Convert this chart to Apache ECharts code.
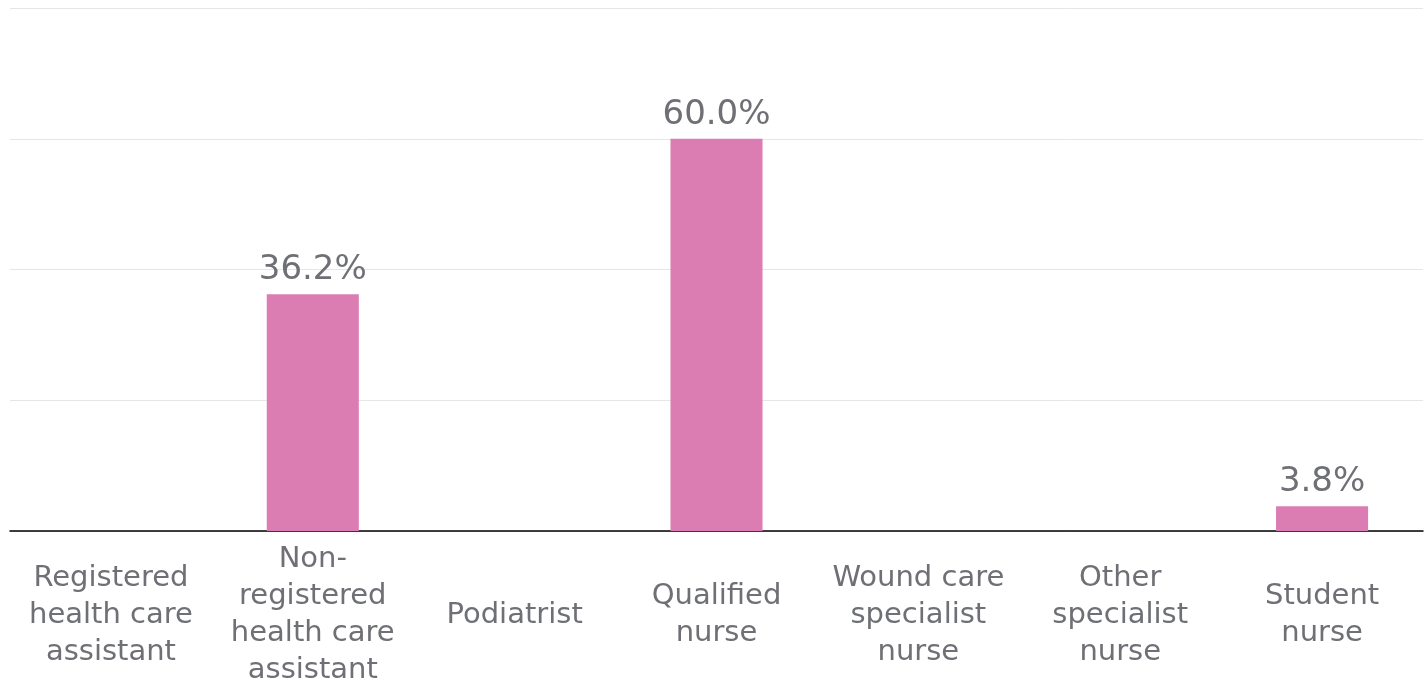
<!DOCTYPE html>
<html>
<head>
<meta charset="utf-8">
<script src="https://cdn.jsdelivr.net/npm/echarts@6/dist/echarts.min.js"></script>
<style>html,body{margin:0;padding:0;background:#fff;}#c{width:1424px;height:689px;}</style>
</head>
<body>
<div id="c"></div>
<script>
const categories = [
  "Registered\nhealth care\nassistant",
  "Non-\nregistered\nhealth care\nassistant",
  "Podiatrist",
  "Qualified\nnurse",
  "Wound care\nspecialist\nnurse",
  "Other\nspecialist\nnurse",
  "Student\nnurse"
];
const values = [0, 36.2, 0, 60.0, 0, 0, 3.8];
const yTicks = [0, 20, 40, 60, 80];

const chart = echarts.init(document.getElementById('c'), null, {renderer: 'canvas'});
chart.setOption({
  animation: false,
  grid: {left: 10, right: 1, top: 8, bottom: 158, containLabel: false},
  xAxis: {
    type: 'category',
    data: categories,
    axisLine: {show: true, lineStyle: {color: '#000', width: 1.5}},
    axisTick: {show: false},
    axisLabel: {
      interval: 0,
      margin: 84,
      verticalAlign: 'middle',
      color: '#6f7075',
      fontFamily: 'DejaVu Sans',
      fontSize: 29,
      lineHeight: 37
    }
  },
  yAxis: {
    type: 'value',
    min: 0, max: yTicks[yTicks.length - 1], interval: 20,
    axisLabel: {show: false},
    axisLine: {show: false},
    axisTick: {show: false},
    splitLine: {lineStyle: {color: '#e6e6e6', width: 1}}
  },
  series: [{
    type: 'bar',
    data: values.map(v => v === 0 ? null : v),
    barWidth: '45.6%',
    itemStyle: {color: '#db7db3'},
    z: 1,
    label: {
      show: true,
      position: 'top',
      distance: 7,
      formatter: p => p.value.toFixed(1) + '%',
      color: '#6f7075',
      fontFamily: 'DejaVu Sans',
      fontSize: 34
    }
  }]
});
</script>
</body>
</html>
